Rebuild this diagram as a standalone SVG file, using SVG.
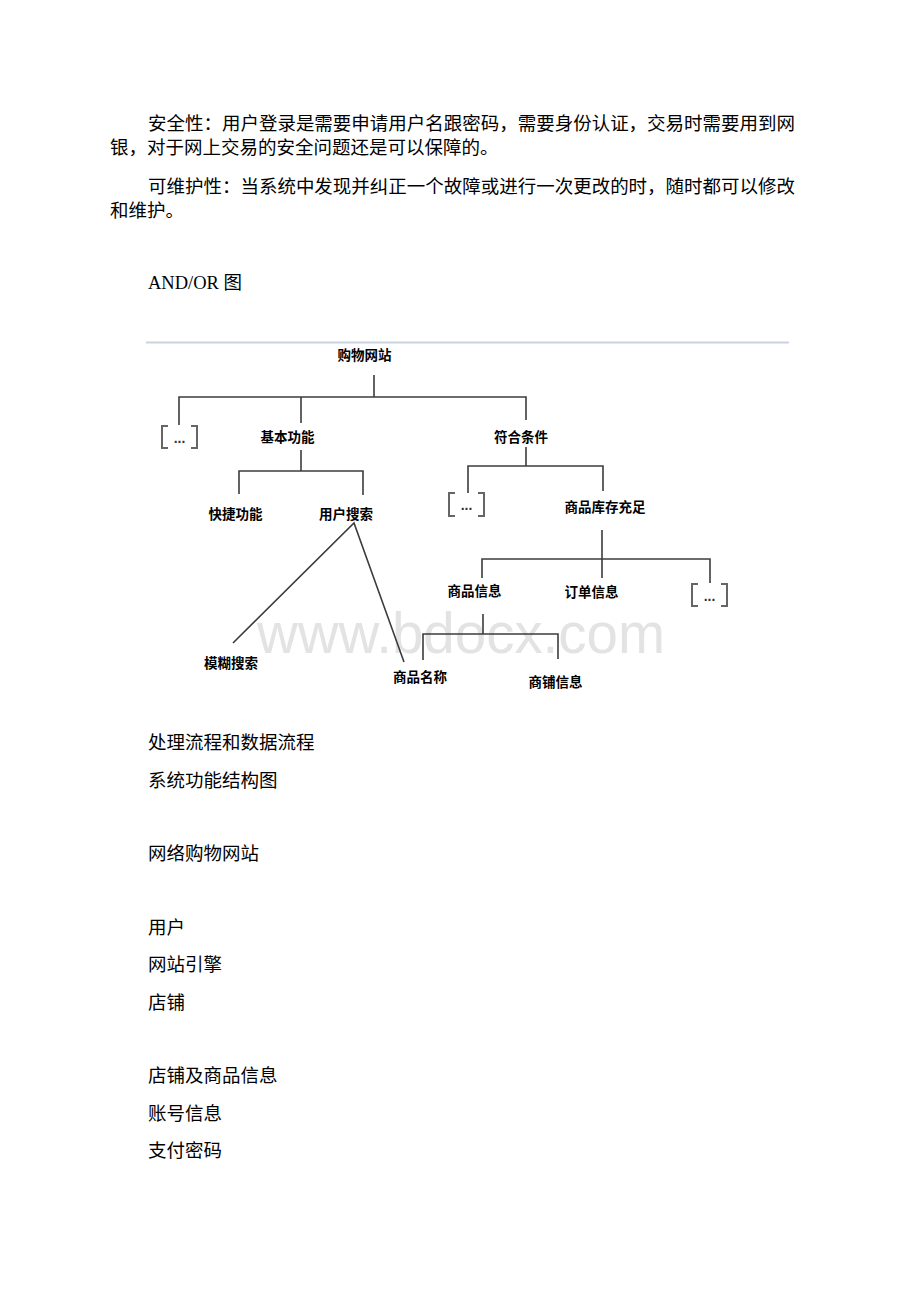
<svg xmlns="http://www.w3.org/2000/svg" width="920" height="1302" viewBox="0 0 920 1302">
<style>
.body{font-family:"Liberation Serif","Noto Sans CJK SC",serif;font-size:18.5px;fill:#000}
.lbl{font-family:"Noto Sans CJK SC","Liberation Sans",sans-serif;font-size:13.5px;font-weight:bold;fill:#000;text-anchor:middle}
.ln{stroke:#3c3c3c;stroke-width:1.6;fill:none}
.br{stroke:#666;stroke-width:2;fill:none}
.dots{font-family:"Liberation Sans",sans-serif;font-size:14px;font-weight:bold;fill:#333;text-anchor:middle}
.wm{font-family:"Liberation Sans",Arial,sans-serif;font-size:57px;fill:#e3e3e3}
</style>
<rect width="920" height="1302" fill="#fff"/>
<g id="body-text">
<text class="body" x="148" y="130" textLength="647" lengthAdjust="spacingAndGlyphs">安全性：用户登录是需要申请用户名跟密码，需要身份认证，交易时需要用到网</text>
<text class="body" x="110" y="154">银，对于网上交易的安全问题还是可以保障的。</text>
<text class="body" x="148" y="193" textLength="647" lengthAdjust="spacingAndGlyphs">可维护性：当系统中发现并纠正一个故障或进行一次更改的时，随时都可以修改</text>
<text class="body" x="110" y="217">和维护。</text>
<text class="body" x="148" y="289">AND/OR 图</text>
<text class="body" x="148" y="749">处理流程和数据流程</text>
<text class="body" x="148" y="787">系统功能结构图</text>
<text class="body" x="148" y="860">网络购物网站</text>
<text class="body" x="148" y="934">用户</text>
<text class="body" x="148" y="971">网站引擎</text>
<text class="body" x="148" y="1009">店铺</text>
<text class="body" x="148" y="1082">店铺及商品信息</text>
<text class="body" x="148" y="1120">账号信息</text>
<text class="body" x="148" y="1157">支付密码</text>
</g>
<line x1="146" y1="342.5" x2="789" y2="342.5" stroke="#c9d3e3" stroke-width="2"/>
<text class="wm" x="257" y="653" textLength="408" lengthAdjust="spacingAndGlyphs">www.bdocx.com</text>
<g id="connectors">
<path class="ln" d="M374 375V397M179 425V397H526V420M301 397V423"/>
<path class="ln" d="M526 447V466M468 493V466H603V491"/>
<path class="ln" d="M301 450V471M239 494V471H363V495"/>
<path class="ln" d="M233 643L354 523L404 662"/>
<path class="ln" d="M602 530V578M482 578V559H710V583"/>
<path class="ln" d="M483 614V634M423 660V634H558V659"/>
</g>
<g id="n-root"><text class="lbl" x="364.5" y="360">购物网站</text></g>
<g id="n-or1"><path class="br" d="M168 426H162V448H168M191 426H197V448H191"/><text class="dots" x="179.5" y="443">...</text></g>
<g id="n-basic"><text class="lbl" x="287.5" y="442">基本功能</text></g>
<g id="n-cond"><text class="lbl" x="521" y="442">符合条件</text></g>
<g id="n-quick"><text class="lbl" x="235.5" y="519">快捷功能</text></g>
<g id="n-search"><text class="lbl" x="346" y="519">用户搜索</text></g>
<g id="n-or2"><path class="br" d="M455 493H449V516H455M478 493H484V516H478"/><text class="dots" x="466.5" y="510">...</text></g>
<g id="n-stock"><text class="lbl" x="605" y="512">商品库存充足</text></g>
<g id="n-goodsinfo"><text class="lbl" x="474.5" y="596">商品信息</text></g>
<g id="n-order"><text class="lbl" x="591.5" y="597">订单信息</text></g>
<g id="n-or3"><path class="br" d="M698 584H692V606H698M721 584H727V606H721"/><text class="dots" x="709.5" y="601">...</text></g>
<g id="n-fuzzy"><text class="lbl" x="231" y="668">模糊搜索</text></g>
<g id="n-name"><text class="lbl" x="420" y="682">商品名称</text></g>
<g id="n-shop"><text class="lbl" x="555.5" y="687">商铺信息</text></g>
</svg>
